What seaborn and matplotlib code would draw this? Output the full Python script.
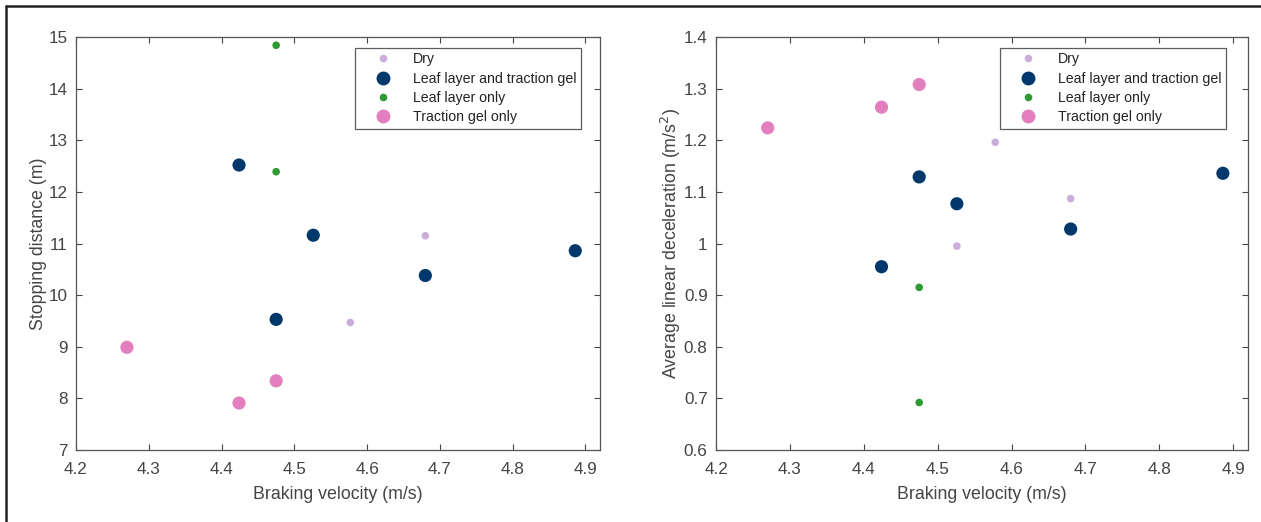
import numpy as np
import pandas as pd
import matplotlib
matplotlib.use("Agg")
import matplotlib.pyplot as plt
import seaborn as sns
from matplotlib.lines import Line2D

sns.set_theme(style="white")
plt.rcParams['font.family'] = ['Liberation Sans', 'DejaVu Sans']

conditions = ["Dry", "Leaf layer and traction gel", "Leaf layer only", "Traction gel only"]

# Stopping distance panel
dry_v1 = [4.680, 4.577]
dry_d = [11.15, 9.47]
lg_v1 = [4.424, 4.526, 4.475, 4.680, 4.886]
lg_d = [12.52, 11.16, 9.53, 10.38, 10.86]
lo_v1 = [4.475, 4.475]
lo_d = [14.84, 12.39]
tg_v1 = [4.270, 4.424, 4.475]
tg_d = [8.99, 7.91, 8.34]

# Deceleration panel
dry_v2 = [4.578, 4.680, 4.526]
dry_a = [1.196, 1.087, 0.995]
lg_v2 = [4.475, 4.526, 4.424, 4.680, 4.886]
lg_a = [1.129, 1.077, 0.955, 1.028, 1.136]
lo_v2 = [4.475, 4.475]
lo_a = [0.915, 0.692]
tg_v2 = [4.270, 4.424, 4.475]
tg_a = [1.224, 1.264, 1.308]

xticks = [4.2, 4.3, 4.4, 4.5, 4.6, 4.7, 4.8, 4.9]
yticks1 = [7, 8, 9, 10, 11, 12, 13, 14, 15]
yticks2 = [0.6, 0.7, 0.8, 0.9, 1, 1.1, 1.2, 1.3, 1.4]

colors = {"Dry": "#c9aedb", "Leaf layer and traction gel": "#00386b",
          "Leaf layer only": "#2e9a32", "Traction gel only": "#e37fbe"}
sizes = {"Dry": 30, "Leaf layer and traction gel": 90,
         "Leaf layer only": 30, "Traction gel only": 90}
msize = {"Dry": 5.5, "Leaf layer and traction gel": 10,
         "Leaf layer only": 5.5, "Traction gel only": 10}

def make_df(groups):
    rows = []
    for cond, xs, ys in groups:
        for x, y in zip(xs, ys):
            rows.append({"v": x, "y": y, "cond": cond})
    return pd.DataFrame(rows)

df1 = make_df([(conditions[0], dry_v1, dry_d), (conditions[1], lg_v1, lg_d),
               (conditions[2], lo_v1, lo_d), (conditions[3], tg_v1, tg_d)])
df2 = make_df([(conditions[0], dry_v2, dry_a), (conditions[1], lg_v2, lg_a),
               (conditions[2], lo_v2, lo_a), (conditions[3], tg_v2, tg_a)])

fig = plt.figure(figsize=(12.61, 5.22), dpi=100)
W, H = 1261, 522
ax1 = fig.add_axes([76 / W, 1 - 450 / H, (600 - 76) / W, (450 - 37) / H])
ax2 = fig.add_axes([716 / W, 1 - 450 / H, (1248 - 716) / W, (450 - 37) / H])

axcol = "#444444"
for ax, df, yt, ylab, ylim, lx, ylx in [
        (ax1, df1, yticks1, "Stopping distance (m)", (7, 15), 355, -0.056),
        (ax2, df2, yticks2, "Average linear deceleration (m/s$^2$)", (0.6, 1.4), 1000, -0.062)]:
    sns.scatterplot(data=df, x="v", y="y", hue="cond", size="cond",
                    hue_order=conditions, size_order=conditions,
                    palette=colors, sizes=sizes, linewidth=0, ax=ax, legend=False)
    ax.set_xlim(4.2, 4.92)
    ax.set_ylim(*ylim)
    ax.set_xticks(xticks)
    ax.set_xticklabels([f"{t:g}" for t in xticks])
    ax.set_yticks(yt)
    ax.set_yticklabels([f"{t:g}" for t in yt])
    ax.set_xlabel("Braking velocity (m/s)", fontsize=12.8, color=axcol, labelpad=6)
    ax.set_ylabel(ylab, fontsize=12.8, color=axcol)
    ax.yaxis.set_label_coords(ylx, 0.5)
    ax.tick_params(direction="in", length=4, width=0.8, colors=axcol,
                   labelsize=12.3, top=True, right=True, bottom=True, left=True,
                   labelcolor=axcol)
    ax.tick_params(axis="x", pad=9)
    ax.tick_params(axis="y", pad=6)
    for s in ax.spines.values():
        s.set_color("#555555")
        s.set_linewidth(0.9)
    handles = [Line2D([0], [0], marker="o", linestyle="none", markersize=msize[c],
                      markerfacecolor=colors[c], markeredgewidth=0, label=c)
               for c in conditions]
    leg = ax.legend(handles=handles, loc="upper left",
                    bbox_to_anchor=(lx / W, 1 - 48 / H), bbox_transform=fig.transFigure,
                    fontsize=10.2, frameon=True, fancybox=False, handletextpad=0.4,
                    borderpad=0.3, labelspacing=0.38, handlelength=3.4,
                    borderaxespad=0)
    leg.get_frame().set_edgecolor("#333333")
    leg.get_frame().set_linewidth(0.9)
    for t in leg.get_texts():
        t.set_color("#222222")

# outer frame lines (top and left)
fig.add_artist(Line2D([6 / W, 6 / W], [0, 1 - 6 / H], transform=fig.transFigure,
                      color="#222222", linewidth=1.8))
fig.add_artist(Line2D([6 / W, 1], [1 - 6 / H, 1 - 6 / H], transform=fig.transFigure,
                      color="#222222", linewidth=1.8))

fig.savefig("out.png", dpi=100)
